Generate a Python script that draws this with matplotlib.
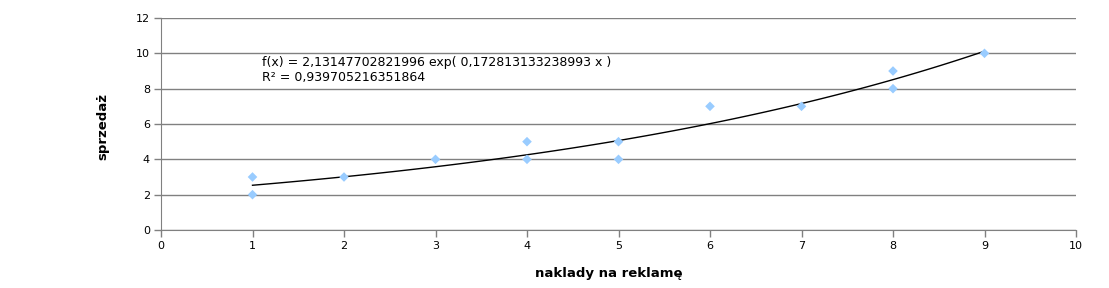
import numpy as np
import matplotlib
matplotlib.use("Agg")
import matplotlib.pyplot as plt

x_vals = [1, 1, 2, 3, 4, 4, 5, 5, 6, 7, 8, 8, 9]
y_vals = [3, 2, 3, 4, 5, 4, 5, 4, 7, 7, 9, 8, 10]
x_ticks = [0, 1, 2, 3, 4, 5, 6, 7, 8, 9, 10]
y_ticks = [0, 2, 4, 6, 8, 10, 12]
x_label = "naklady na reklamę"
y_label = "sprzedaż"
eq_text = "f(x) = 2,13147702821996 exp( 0,172813133238993 x )\nR² = 0,939705216351864"

fig = plt.figure(figsize=(11.09, 2.88), dpi=100)
ax = fig.add_axes([161/1109, 1-230/288, 915/1109, 212/288])

xa = np.array(x_vals, float)
ya = np.array(y_vals, float)
b, ln_a = np.polyfit(xa, np.log(ya), 1)
xs = np.linspace(xa.min(), xa.max(), 100)
ax.plot(xs, np.exp(ln_a) * np.exp(b * xs), color="black", lw=1.0, zorder=3)
ax.scatter(x_vals, y_vals, marker="D", s=24, color="#99ccff", edgecolors="none", zorder=4)

ax.set_xlim(0, 10)
ax.set_ylim(0, 12)
ax.set_xticks(x_ticks)
ax.set_yticks(y_ticks)
ax.yaxis.grid(True, color="#808080", lw=1)
ax.set_axisbelow(True)
for s in ["top", "right"]:
    ax.spines[s].set_visible(False)
for s in ["left", "bottom"]:
    ax.spines[s].set_color("#808080")
ax.tick_params(colors="#808080", labelcolor="black", labelsize=8, length=5, width=1, pad=3)
ax.set_xlabel(x_label, fontsize=9.5, fontweight="bold")
ax.set_ylabel(y_label, fontsize=9.5, fontweight="bold")
ax.xaxis.set_label_coords(0.489, -0.175)
ax.yaxis.set_label_coords(-0.056, 0.49)
ax.text(1.1, 9.85, eq_text, fontsize=9, va="top", ha="left", linespacing=1.2)

fig.savefig("out.png", dpi=100)
